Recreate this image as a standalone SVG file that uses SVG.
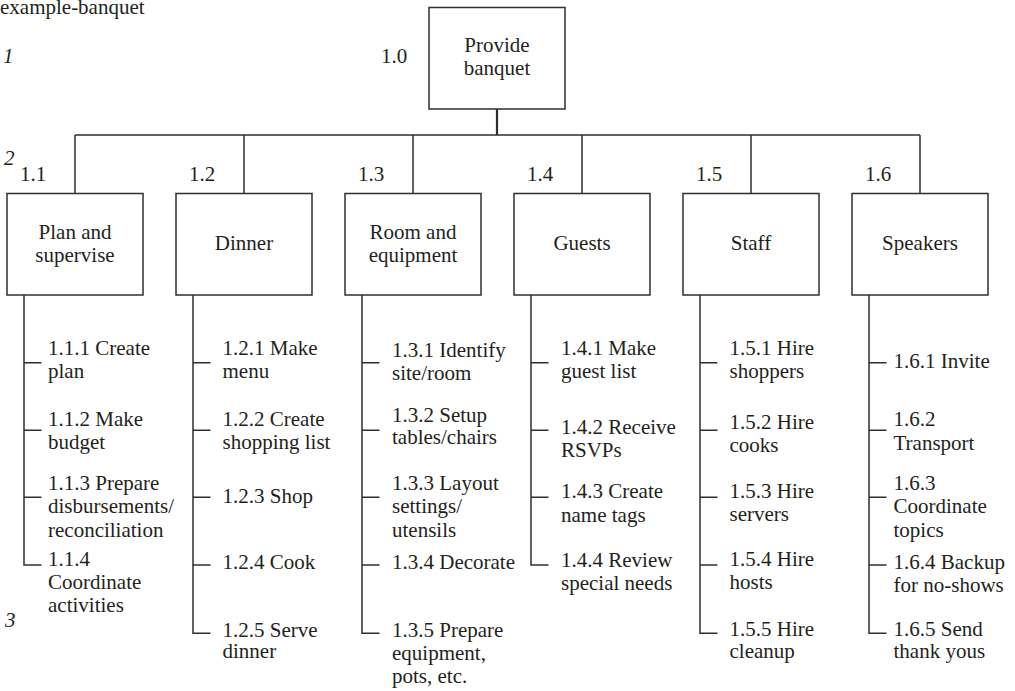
<svg xmlns="http://www.w3.org/2000/svg" width="1015" height="691" viewBox="0 0 1015 691">
  <style>
    text { font-family: "Liberation Serif", "Times New Roman", serif; font-size: 21px; fill: #231f20; }
    .lvl { font-style: italic; }
    .mid { text-anchor: middle; }
    .box { fill: #ffffff; stroke: #2f2f2f; stroke-width: 1.5; }
    .ln { fill: none; stroke: #2f2f2f; stroke-width: 1.5; }
    .stem { fill: none; stroke: #2f2f2f; stroke-width: 2.2; }
  </style>
  <rect width="1015" height="691" fill="#ffffff"/>

  <!-- title and level markers -->
  <text x="0" y="14">example-banquet</text>
  <text class="lvl" x="3" y="63">1</text>
  <text class="lvl" x="4" y="165">2</text>
  <text class="lvl" x="5" y="627">3</text>

  <!-- connectors -->
  <g id="connectors">
    <path class="stem" d="M497,109 V135"/>
    <path class="ln" d="M75,135 H920 M75,135 V193.5 M244,135 V193.5 M413,135 V193.5 M582,135 V193.5 M751,135 V193.5 M920,135 V193.5"/>
    <!-- 1.1 children -->
    <path class="ln" d="M24,295 V565 H41.5 M24,362.7 H41.5 M24,430.3 H41.5 M24,497.3 H41.5"/>
    <!-- 1.2 children -->
    <path class="ln" d="M193,295 V633.3 H210.5 M193,362.7 H210.5 M193,430.3 H210.5 M193,497.3 H210.5 M193,565 H210.5"/>
    <!-- 1.3 children -->
    <path class="ln" d="M362,295 V633.3 H379.5 M362,362.7 H379.5 M362,430.3 H379.5 M362,497.3 H379.5 M362,565 H379.5"/>
    <!-- 1.4 children -->
    <path class="ln" d="M531,295 V565 H548.5 M531,362.7 H548.5 M531,430.3 H548.5 M531,497.3 H548.5"/>
    <!-- 1.5 children -->
    <path class="ln" d="M700,295 V633.3 H717.5 M700,362.7 H717.5 M700,430.3 H717.5 M700,497.3 H717.5 M700,565 H717.5"/>
    <!-- 1.6 children -->
    <path class="ln" d="M869,295 V633.3 H886.5 M869,362.7 H886.5 M869,430.3 H886.5 M869,497.3 H886.5 M869,565 H886.5"/>
  </g>

  <!-- root -->
  <g id="n1_0">
    <text x="381" y="63">1.0</text>
    <rect class="box" x="429" y="7.5" width="136" height="101.5"/>
    <text class="mid" x="497" y="52">Provide</text>
    <text class="mid" x="497" y="74.5">banquet</text>
  </g>

  <!-- level 2 -->
  <g id="n1_1">
    <text x="20" y="181">1.1</text>
    <rect class="box" x="7" y="193.5" width="136" height="101.5"/>
    <text class="mid" x="75" y="239">Plan and</text>
    <text class="mid" x="75" y="262">supervise</text>
  </g>
  <g id="n1_2">
    <text x="189" y="181">1.2</text>
    <rect class="box" x="176" y="193.5" width="136" height="101.5"/>
    <text class="mid" x="244" y="250">Dinner</text>
  </g>
  <g id="n1_3">
    <text x="358" y="181">1.3</text>
    <rect class="box" x="345" y="193.5" width="136" height="101.5"/>
    <text class="mid" x="413" y="239">Room and</text>
    <text class="mid" x="413" y="262">equipment</text>
  </g>
  <g id="n1_4">
    <text x="527" y="181">1.4</text>
    <rect class="box" x="514" y="193.5" width="136" height="101.5"/>
    <text class="mid" x="582" y="250">Guests</text>
  </g>
  <g id="n1_5">
    <text x="696" y="181">1.5</text>
    <rect class="box" x="683" y="193.5" width="136" height="101.5"/>
    <text class="mid" x="751" y="250">Staff</text>
  </g>
  <g id="n1_6">
    <text x="865" y="181">1.6</text>
    <rect class="box" x="852" y="193.5" width="136" height="101.5"/>
    <text class="mid" x="920" y="250">Speakers</text>
  </g>

  <!-- 1.1 work packages -->
  <g id="n1_1_1"><text x="48" y="355">1.1.1 Create</text><text x="48" y="378">plan</text></g>
  <g id="n1_1_2"><text x="48" y="426">1.1.2 Make</text><text x="48" y="449">budget</text></g>
  <g id="n1_1_3"><text x="48" y="490">1.1.3 Prepare</text><text x="48" y="513.3">disbursements/</text><text x="48" y="536.7">reconciliation</text></g>
  <g id="n1_1_4"><text x="48" y="566">1.1.4</text><text x="48" y="589">Coordinate</text><text x="48" y="612.3">activities</text></g>

  <!-- 1.2 work packages -->
  <g id="n1_2_1"><text x="222.5" y="355">1.2.1 Make</text><text x="222.5" y="378">menu</text></g>
  <g id="n1_2_2"><text x="222.5" y="426">1.2.2 Create</text><text x="222.5" y="449">shopping list</text></g>
  <g id="n1_2_3"><text x="222.5" y="503.3">1.2.3 Shop</text></g>
  <g id="n1_2_4"><text x="222.5" y="569.3">1.2.4 Cook</text></g>
  <g id="n1_2_5"><text x="222.5" y="636.7">1.2.5 Serve</text><text x="222.5" y="658.3">dinner</text></g>

  <!-- 1.3 work packages -->
  <g id="n1_3_1"><text x="392" y="356.7">1.3.1 Identify</text><text x="392" y="380">site/room</text></g>
  <g id="n1_3_2"><text x="392" y="421.7">1.3.2 Setup</text><text x="392" y="444">tables/chairs</text></g>
  <g id="n1_3_3"><text x="392" y="490">1.3.3 Layout</text><text x="392" y="513.3">settings/</text><text x="392" y="536.7">utensils</text></g>
  <g id="n1_3_4"><text x="392" y="569">1.3.4 Decorate</text></g>
  <g id="n1_3_5"><text x="392" y="636.7">1.3.5 Prepare</text><text x="392" y="660">equipment,</text><text x="392" y="683.3">pots, etc.</text></g>

  <!-- 1.4 work packages -->
  <g id="n1_4_1"><text x="561" y="355">1.4.1 Make</text><text x="561" y="378">guest list</text></g>
  <g id="n1_4_2"><text x="561" y="434.3">1.4.2 Receive</text><text x="561" y="456.7">RSVPs</text></g>
  <g id="n1_4_3"><text x="561" y="498.3">1.4.3 Create</text><text x="561" y="521.7">name tags</text></g>
  <g id="n1_4_4"><text x="561" y="566.7">1.4.4 Review</text><text x="561" y="590">special needs</text></g>

  <!-- 1.5 work packages -->
  <g id="n1_5_1"><text x="729.5" y="355">1.5.1 Hire</text><text x="729.5" y="377.5">shoppers</text></g>
  <g id="n1_5_2"><text x="729.5" y="429.3">1.5.2 Hire</text><text x="729.5" y="451.7">cooks</text></g>
  <g id="n1_5_3"><text x="729.5" y="498.3">1.5.3 Hire</text><text x="729.5" y="520.7">servers</text></g>
  <g id="n1_5_4"><text x="729.5" y="566">1.5.4 Hire</text><text x="729.5" y="589.3">hosts</text></g>
  <g id="n1_5_5"><text x="729.5" y="636">1.5.5 Hire</text><text x="729.5" y="658.3">cleanup</text></g>

  <!-- 1.6 work packages -->
  <g id="n1_6_1"><text x="893.5" y="368.3">1.6.1 Invite</text></g>
  <g id="n1_6_2"><text x="893.5" y="426">1.6.2</text><text x="893.5" y="450">Transport</text></g>
  <g id="n1_6_3"><text x="893.5" y="490">1.6.3</text><text x="893.5" y="513.3">Coordinate</text><text x="893.5" y="536.7">topics</text></g>
  <g id="n1_6_4"><text x="893.5" y="569.3">1.6.4 Backup</text><text x="893.5" y="591.7">for no-shows</text></g>
  <g id="n1_6_5"><text x="893.5" y="636">1.6.5 Send</text><text x="893.5" y="658.3">thank yous</text></g>
</svg>
